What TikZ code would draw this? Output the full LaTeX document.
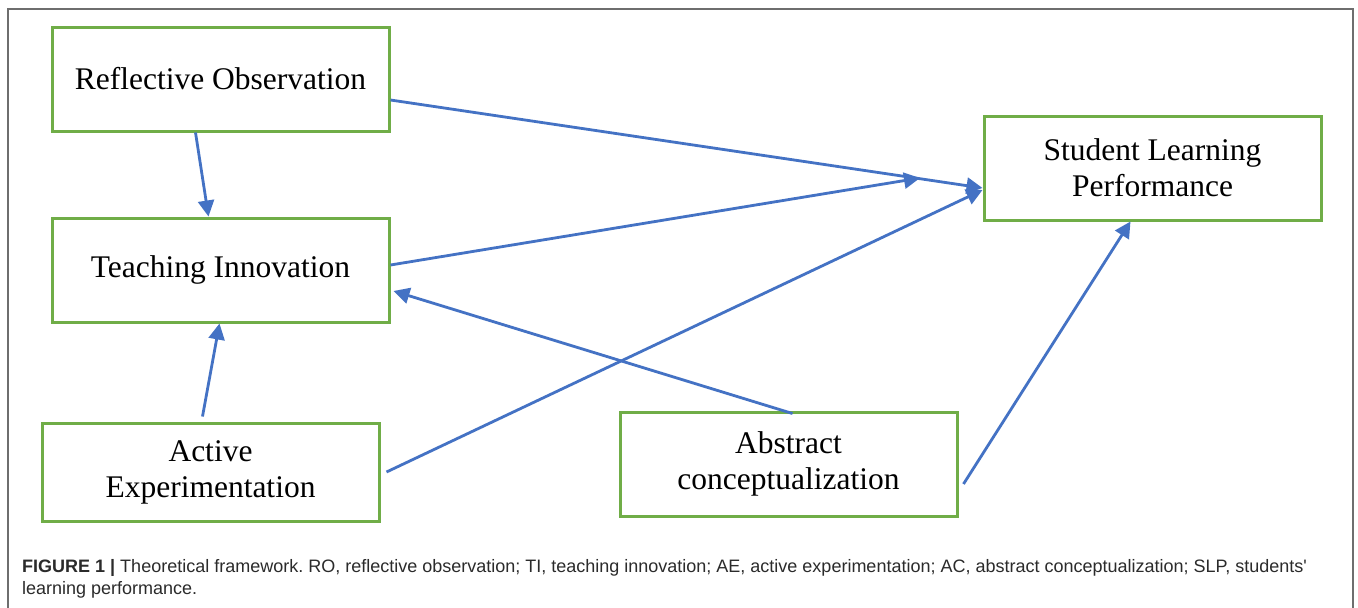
\documentclass[tikz,border=0pt]{standalone}
\usepackage{fontspec}
\setmainfont{Liberation Serif}
\newfontfamily\capfont{Liberation Sans}
\usetikzlibrary{arrows.meta,calc}
\definecolor{boxgreen}{HTML}{70AD47}
\definecolor{arrowblue}{HTML}{4472C4}
\definecolor{framegray}{HTML}{6E6E6E}
\definecolor{captext}{HTML}{2B2B2B}
\frenchspacing
\begin{document}
\begin{tikzpicture}[x=1pt,y=-1pt,
  conceptbox/.style={draw=boxgreen, line width=3pt, fill=white, minimum width=337pt, minimum height=104pt,
    inner sep=0pt, align=center, font=\fontsize{31.5}{36}\selectfont},
  link/.style={draw=arrowblue, line width=2.8pt, -{Triangle[length=16pt,width=16pt]}}
]
\useasboundingbox (0,0) rectangle (1358,608);
\fill[white] (0,0) rectangle (1358,608);
\draw[framegray, line width=1.6pt] (8,608) -- (8,9) -- (1353,9) -- (1353,608);

\node[conceptbox] (ro) at (220.5,79) {Reflective Observation};
\node[conceptbox] (ti) at (220.5,270) {Teaching Innovation};
\node[conceptbox, minimum height=98pt] (ae) at (210.5,472) {Active\\Experimentation};
\node[conceptbox] (ac) at (788.5,464) {Abstract\\conceptualization};
\node[conceptbox] (slp) at (1152.5,168) {Student Learning\\Performance};
\coordinate (tiend) at (920,178);

\draw[link] ([xshift=145pt]ro.south west) -- ([xshift=158pt]ti.north west);
\draw[link] ([yshift=-21pt]ro.east) -- ([yshift=-20pt]slp.west);
\draw[link] ([yshift=5pt]ti.east) -- (tiend);
\draw[link] ([xshift=6pt]ae.east) -- ([yshift=-22pt]slp.west);
\draw[link] ([xshift=4pt,yshift=-3pt]ac.north) -- ([xshift=3pt,yshift=-21pt]ti.east);
\draw[link] ([xshift=-8pt,yshift=5pt]ae.north) -- ([xshift=169pt]ti.south west);
\draw[link] ([xshift=5pt,yshift=-20pt]ac.east) -- ([xshift=148pt]slp.south west);

\node[anchor=base west, inner sep=0pt, text=captext, font=\capfont\fontsize{18}{22}\selectfont, align=left] (cap) at (22,594)
  {\textbf{FIGURE 1 |} Theoretical framework. RO, reflective observation; TI, teaching innovation; AE, active experimentation; AC, abstract conceptualization; SLP, students'\\learning performance.};
\end{tikzpicture}
\end{document}
